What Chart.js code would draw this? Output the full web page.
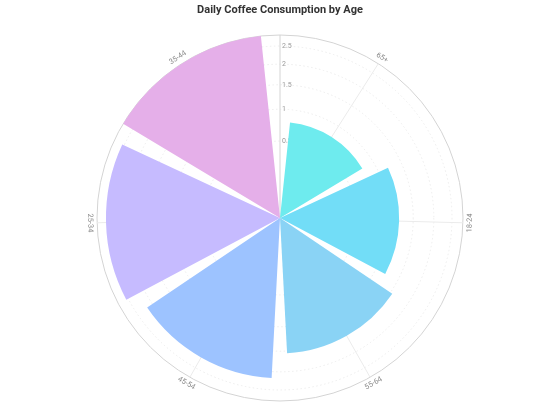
<!DOCTYPE html>
<html><head><meta charset="utf-8">
<script src="https://cdn.jsdelivr.net/npm/chart.js@4.4.1/dist/chart.umd.min.js"></script>
<style>html,body{margin:0;padding:0;background:#fff}#wrap{width:560px;height:420px;position:relative}</style>
</head><body><div id="wrap"><canvas id="c"></canvas></div>
<script>
// ---- data ----
const categories = ['65+', '18-24', '55-64', '45-54', '25-34', '35-44'];
const consumption = [0.78, 1.2, 1.55, 2.17, 2.56, 2.83];
const barColors = ['#6eebee', '#72ddf7', '#8ad3f5', '#9dc3ff', '#c6bbff', '#e5afe9'];
const tickValues = [0.5, 1, 1.5, 2, 2.5];
const tickLabels = ['0.5', '1', '1.5', '2', '2.5'];
const titleText = 'Daily Coffee Consumption by Age';

// ---- layout (angles in degrees) ----
const BAR_SWEEP = 53;
const GAP_SWEEP = 6;

// sqrt radial scale (area proportional to value)
class SqrtRadialScale extends Chart.RadialLinearScale {
  getDistanceFromCenterForValue(value) {
    if (value === null || value === undefined || isNaN(value)) return NaN;
    const f = Math.max(0, (value - this.min) / (this.max - this.min));
    return this.drawingArea * Math.sqrt(f);
  }
  getValueForDistanceFromCenter(d) {
    const f = d / this.drawingArea;
    return this.min + f * f * (this.max - this.min);
  }
}
SqrtRadialScale.id = 'radialSqrt';
Chart.register(SqrtRadialScale);

// build element lists: gap, bar, gap, bar, ... , bar, gap
const elLabels = [''], elData = [0], elColors = ['rgba(0,0,0,0)'], elAngles = [GAP_SWEEP], barIdx = [];
categories.forEach((c, i) => {
  barIdx.push(elData.length);
  elLabels.push(c); elData.push(consumption[i]); elColors.push(barColors[i]); elAngles.push(BAR_SWEEP);
  elLabels.push(''); elData.push(0); elColors.push('rgba(0,0,0,0)'); elAngles.push(GAP_SWEEP);
});
const maxVal = Math.max(...consumption);

const decor = {
  id: 'decor',
  beforeDatasetsDraw(chart) {
    const r = chart.scales.r, ctx = chart.ctx;
    const cx = r.xCenter, cy = r.yCenter, R = r.drawingArea;
    const arcs = chart.getDatasetMeta(0).data;
    ctx.save();
    ctx.lineWidth = 1;
    ctx.strokeStyle = '#ebebeb';
    barIdx.forEach(i => {
      const a = arcs[i];
      const mid = (a.startAngle + a.endAngle) / 2;
      ctx.beginPath();
      ctx.moveTo(cx, cy);
      ctx.lineTo(cx + Math.cos(mid) * R, cy + Math.sin(mid) * R);
      ctx.stroke();
    });
    // radius axis line
    const a0 = r.getIndexAngle(0) - Math.PI / 2;
    ctx.strokeStyle = '#d4d4d4';
    ctx.beginPath();
    ctx.moveTo(cx, cy);
    ctx.lineTo(cx + Math.cos(a0) * R, cy + Math.sin(a0) * R);
    ctx.stroke();
    // tick labels
    ctx.fillStyle = '#9a9a9a';
    ctx.font = '7px Roboto';
    ctx.textAlign = 'left';
    ctx.textBaseline = 'middle';
    tickValues.forEach((v, k) => {
      const d = r.getDistanceFromCenterForValue(v);
      ctx.fillText(tickLabels[k], cx + 2, cy - d);
    });
    ctx.restore();
  },
  afterDraw(chart) {
    const r = chart.scales.r, ctx = chart.ctx;
    const cx = r.xCenter, cy = r.yCenter, R = r.drawingArea;
    const arcs = chart.getDatasetMeta(0).data;
    ctx.save();
    ctx.fillStyle = '#8a8a8a';
    ctx.font = '7.5px Roboto';
    ctx.textAlign = 'center';
    ctx.textBaseline = 'middle';
    barIdx.forEach((i, k) => {
      const a = arcs[i];
      const mid = (a.startAngle + a.endAngle) / 2;
      const d = R + 7;
      const x = cx + Math.cos(mid) * d, y = cy + Math.sin(mid) * d;
      const rot = Math.sin(mid) > 0 ? mid - Math.PI / 2 : mid + Math.PI / 2;
      ctx.save();
      ctx.translate(x, y);
      ctx.rotate(rot);
      ctx.fillText(categories[k], 0, 0);
      ctx.restore();
    });
    ctx.restore();
  }
};

new Chart(document.getElementById('c'), {
  type: 'polarArea',
  data: {
    labels: elLabels,
    datasets: [{
      data: elData,
      backgroundColor: elColors,
      hoverBackgroundColor: elColors,
      borderWidth: 0,
      angle: elAngles
    }]
  },
  options: {
    responsive: true,
    maintainAspectRatio: false,
    animation: false,
    layout: { padding: { top: 0, bottom: 18, left: 0, right: 0 } },
    plugins: {
      legend: { display: false },
      tooltip: { enabled: false },
      title: {
        display: true,
        text: titleText,
        color: '#333',
        font: { family: 'Roboto', size: 11, weight: 'bold' },
        padding: { top: 4, bottom: 17 }
      }
    },
    scales: {
      r: {
        type: 'radialSqrt',
        min: 0,
        max: maxVal,
        startAngle: 0,
        ticks: { display: false, stepSize: 0.5 },
        grid: {
          circular: true,
          lineWidth: 1,
          color: (c) => (c.tick && Math.abs(c.tick.value - maxVal) < 1e-9) ? '#d4d4d4' : '#ececec'
        },
        border: {
          dash: (c) => (c.tick && Math.abs(c.tick.value - maxVal) < 1e-9) ? [] : [1.5, 2.5]
        },
        angleLines: { display: false },
        pointLabels: { display: false }
      }
    }
  },
  plugins: [decor]
});
</script>
</body></html>
